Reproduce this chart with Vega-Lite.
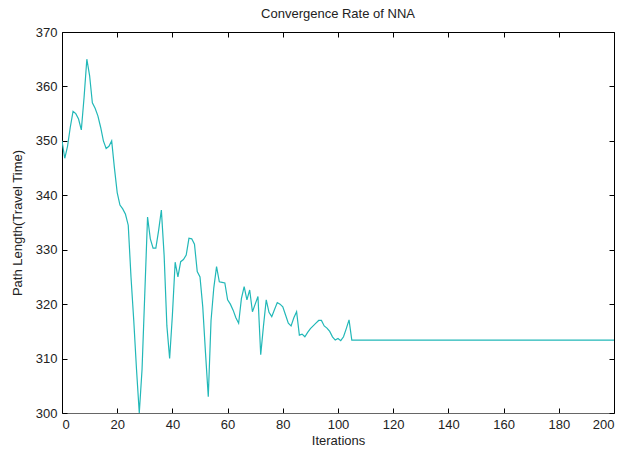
{
  "$schema": "https://vega.github.io/schema/vega-lite/v6.json",
  "autosize": "none",
  "width": 552,
  "height": 381,
  "padding": {"left": 62, "top": 32, "right": 13, "bottom": 42},
  "background": "white",
  "title": {"text": "Convergence Rate of NNA", "fontSize": 13, "fontWeight": "normal", "font": "Liberation Sans", "color": "#222", "offset": 5},
  "config": {
    "view": {"stroke": "#000", "strokeWidth": 1},
    "axis": {"labelFont": "Liberation Sans", "titleFont": "Liberation Sans", "labelFontSize": 13, "titleFontSize": 13, "titleFontWeight": "normal", "labelColor": "#222", "titleColor": "#222", "grid": false, "domain": false, "tickColor": "#000", "tickSize": -5, "labelPadding": 10}
  },
  "data": {"values": [
    {"it":0,"v":350},{"it":1,"v":346.8},{"it":2,"v":349},{"it":3,"v":352.5},{"it":4,"v":355.4},{"it":5,"v":355},{"it":6,"v":354},{"it":7,"v":352},{"it":8,"v":358},{"it":9,"v":365},
    {"it":10,"v":362},{"it":11,"v":357},{"it":12,"v":356},{"it":13,"v":354.6},{"it":14,"v":352.5},{"it":15,"v":350},{"it":16,"v":348.6},{"it":17,"v":349},{"it":18,"v":350},{"it":19,"v":345},
    {"it":20,"v":340.5},{"it":21,"v":338.2},{"it":22,"v":337.5},{"it":23,"v":336.5},{"it":24,"v":334.5},{"it":25,"v":325},{"it":26,"v":317},{"it":27,"v":308},{"it":28,"v":300},{"it":29,"v":308},
    {"it":30,"v":322},{"it":31,"v":336},{"it":32,"v":332},{"it":33,"v":330.3},{"it":34,"v":330.3},{"it":35,"v":333.5},{"it":36,"v":337.3},{"it":37,"v":329},{"it":38,"v":316},{"it":39,"v":310},
    {"it":40,"v":318},{"it":41,"v":327.7},{"it":42,"v":325},{"it":43,"v":327.8},{"it":44,"v":328.2},{"it":45,"v":329},{"it":46,"v":332.1},{"it":47,"v":332},{"it":48,"v":331},{"it":49,"v":326},
    {"it":50,"v":325},{"it":51,"v":319.5},{"it":52,"v":311},{"it":53,"v":303},{"it":54,"v":317},{"it":55,"v":323},{"it":56,"v":326.9},{"it":57,"v":324.1},{"it":58,"v":324},{"it":59,"v":323.9},
    {"it":60,"v":320.8},{"it":61,"v":320},{"it":62,"v":318.9},{"it":63,"v":317.5},{"it":64,"v":316.5},{"it":65,"v":321},{"it":66,"v":323.2},{"it":67,"v":320.8},{"it":68,"v":322.6},{"it":69,"v":318.6},
    {"it":70,"v":320},{"it":71,"v":321.4},{"it":72,"v":310.7},{"it":73,"v":316},{"it":74,"v":320.8},{"it":75,"v":318.5},{"it":76,"v":317.7},{"it":77,"v":319},{"it":78,"v":320.3},{"it":79,"v":320},
    {"it":80,"v":319.5},{"it":81,"v":318},{"it":82,"v":316.5},{"it":83,"v":316},{"it":84,"v":317.5},{"it":85,"v":318.6},{"it":86,"v":314.3},{"it":87,"v":314.5},{"it":88,"v":314},{"it":89,"v":314.8},
    {"it":90,"v":315.5},{"it":91,"v":316},{"it":92,"v":316.5},{"it":93,"v":317},{"it":94,"v":317},{"it":95,"v":316},{"it":96,"v":315.6},{"it":97,"v":315},{"it":98,"v":314},{"it":99,"v":313.4},
    {"it":100,"v":313.7},{"it":101,"v":313.3},{"it":102,"v":314},{"it":103,"v":315.5},{"it":104,"v":317.1},{"it":105,"v":313.4},{"it":200,"v":313.4}
  ]},
  "layer": [
    {
      "mark": {"type": "line", "color": "#22b8b8", "strokeWidth": 1.2, "clip": true},
      "encoding": {
        "x": {"field": "it", "type": "quantitative", "scale": {"domain": [0, 200], "nice": false}, "axis": {"title": "Iterations", "values": [0,20,40,60,80,100,120,140,160,180,200], "titleY": 21, "titleBaseline": "top", "domain": true, "domainColor": "#666"}},
        "y": {"field": "v", "type": "quantitative", "scale": {"domain": [300, 370], "nice": false, "zero": false}, "axis": {"title": "Path Length(Travel Time)", "values": [300,310,320,330,340,350,360,370], "titleX": -38}}
      }
    },
    {
      "mark": {"type": "line", "opacity": 0},
      "encoding": {
        "x": {"field": "it", "type": "quantitative", "scale": {"domain": [0, 200], "nice": false}, "axis": {"orient": "top", "title": null, "labels": false, "values": [0,20,40,60,80,100,120,140,160,180,200]}},
        "y": {"field": "v", "type": "quantitative", "scale": {"domain": [300, 370], "nice": false, "zero": false}, "axis": {"orient": "right", "title": null, "labels": false, "values": [300,310,320,330,340,350,360,370]}}
      }
    }
  ],
  "resolve": {"axis": {"x": "independent", "y": "independent"}}
}
